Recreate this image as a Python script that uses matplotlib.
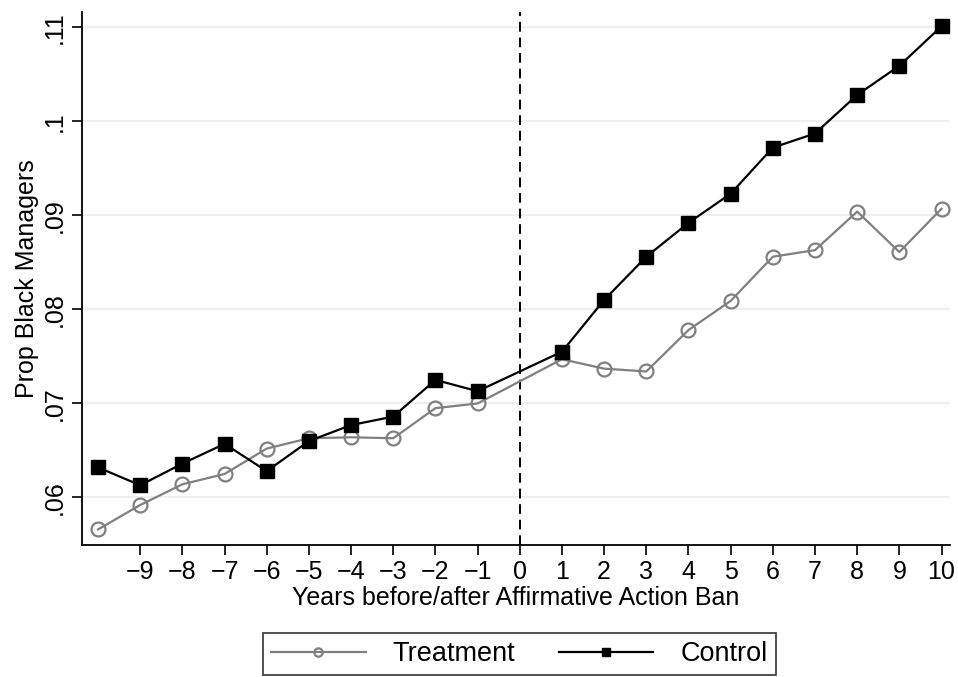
"""Prop Black Managers around an affirmative action ban"""
import matplotlib
matplotlib.use("Agg")
import matplotlib.pyplot as plt

years = [-10, -9, -8, -7, -6, -5, -4, -3, -2, -1, 1, 2, 3, 4, 5, 6, 7, 8, 9, 10]
treatment = [0.0566, 0.0592, 0.0614, 0.0625, 0.0652, 0.0663, 0.0664, 0.0663, 0.0695,
             0.0700, 0.0747, 0.0737, 0.0734, 0.0778, 0.0809, 0.0856, 0.0863, 0.0904,
             0.0861, 0.0907]
control = [0.0632, 0.0613, 0.0636, 0.0657, 0.0628, 0.0660, 0.0677, 0.0686, 0.0725,
           0.0713, 0.0755, 0.0810, 0.0856, 0.0892, 0.0923, 0.0972, 0.0987, 0.1028,
           0.1059, 0.1101]
x_ticks = list(range(-9, 11))
y_ticks = [0.06, 0.07, 0.08, 0.09, 0.10, 0.11]
y_labels = ['.06', '.07', '.08', '.09', '.1', '.11']

plt.rcParams['font.family'] = ['Liberation Sans', 'DejaVu Sans']

fig = plt.figure(figsize=(9.58, 6.77), dpi=100)
ax = fig.add_axes([0.0856, 0.195, 0.906, 0.787])

for y in y_ticks:
    ax.axhline(y, color='#e8f0f2', lw=1.3, zorder=0)
ax.axvline(0, color='black', lw=1.4, ls=(0, (5, 3)), zorder=1)

ax.plot(years, treatment, color='#808080', lw=1.6, marker='o', ms=10,
        mfc='none', mec='#808080', mew=1.6, label='Treatment', zorder=3)
ax.plot(years, control, color='black', lw=1.6, marker='s', ms=10,
        mfc='black', mec='black', label='Control', zorder=4)

ax.set_xlim(-10.38, 10.2)
ax.set_ylim(0.05495, 0.1116)
ax.set_xticks(x_ticks)
ax.set_yticks(y_ticks)
ax.set_yticklabels(y_labels, rotation=90, va='center')
ax.tick_params(labelsize=18, length=7, width=1.2, direction='out', color='black', pad=4)
for side in ('top', 'right'):
    ax.spines[side].set_visible(False)
for side in ('left', 'bottom'):
    ax.spines[side].set_linewidth(1.3)

ax.set_xlabel('Years before/after Affirmative Action Ban', fontsize=18, labelpad=1)
ax.set_ylabel('Prop Black Managers', fontsize=18, labelpad=3)

leg = fig.legend(loc='center', bbox_to_anchor=(0.542, 0.034), ncol=2, fontsize=19.5,
                 frameon=True, fancybox=False, edgecolor='black', handlelength=3.5,
                 columnspacing=1.6, handletextpad=1.0, borderpad=0.3,
                 borderaxespad=0, markerscale=0.6)
leg.get_frame().set_linewidth(1.2)

fig.savefig('out.png', dpi=100)
